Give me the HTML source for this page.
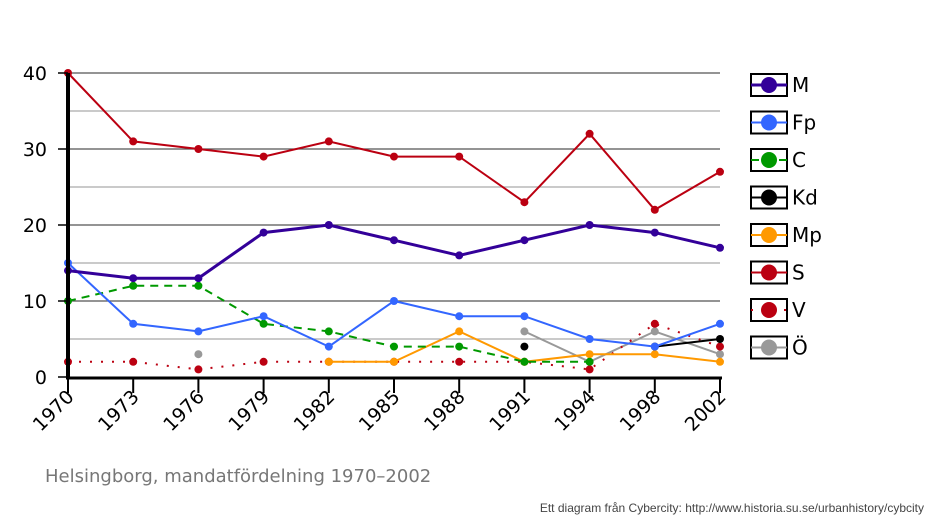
<!DOCTYPE html>
<html><head><meta charset="utf-8"><style>
html,body{margin:0;padding:0;background:#fff;width:934px;height:521px;overflow:hidden}
svg{display:block;font-family:"DejaVu Sans","Liberation Sans",sans-serif}
</style></head><body>
<svg id="s" width="934" height="521" xmlns="http://www.w3.org/2000/svg">
<text x="45" y="482" font-size="18" fill="#777">Helsingborg, mandatfördelning 1970–2002</text>
<text x="924" y="512" font-size="12" fill="#444" text-anchor="end" font-family="Liberation Sans, sans-serif">Ett diagram från Cybercity: http://www.historia.su.se/urbanhistory/cybcity</text>
</svg>
<script>
const s=document.getElementById('s'),NS='http://www.w3.org/2000/svg';
function el(t,a,txt){const e=document.createElementNS(NS,t);for(const k in a)e.setAttribute(k,a[k]);if(txt!=null)e.textContent=txt;s.appendChild(e);return e;}
const X=i=>68+i*65.2, Y=v=>377-v*7.6;
for(let v=5;v<=40;v+=5){el('line',{x1:68,x2:720,y1:Y(v),y2:Y(v),stroke:v%10?'#aaa':'#555','stroke-width':1.3});}
const yrs=[1970,1973,1976,1979,1982,1985,1988,1991,1994,1998,2002];
const ser=[
['M','#330099',3,null,[14,13,13,19,20,18,16,18,20,19,17]],
['Fp','#3366ff',2,null,[15,7,6,8,4,10,8,8,5,4,7]],
['C','#009900',2,'8,6',[10,12,12,7,6,4,4,2,2,null,null]],
['Kd','#000',2,null,[null,null,null,null,null,null,null,4,null,4,5]],
['Mp','#ff9900',2,null,[null,null,null,null,2,2,6,2,3,3,2]],
['S','#bb0011',2,null,[40,31,30,29,31,29,29,23,32,22,27]],
['V','#bb0011',2,'2,9',[2,2,1,2,2,2,2,2,1,7,4]],
['Ö','#999',2,null,[null,null,3,null,null,null,null,6,2,6,3]]];
for(const k of [7,6,4,3,2,1,5,0]){const [n,c,w,d,data]=ser[k];
 let segs=[],cur=[];data.forEach((v,i)=>{if(v==null){if(cur.length)segs.push(cur);cur=[]}else cur.push(X(i)+','+Y(v))});if(cur.length)segs.push(cur);
 segs.forEach(sg=>{if(sg.length>1){const a={points:sg.join(' '),fill:'none',stroke:c,'stroke-width':w};if(d)a['stroke-dasharray']=d;el('polyline',a);}});
 data.forEach((v,i)=>{if(v!=null)el('circle',{cx:X(i),cy:Y(v),r:4,fill:c});});
}
el('line',{x1:68,x2:68,y1:73,y2:379,stroke:'#000','stroke-width':4});
el('line',{x1:66,x2:722,y1:378,y2:378,stroke:'#000','stroke-width':3});
for(let v=0;v<=40;v+=10){el('line',{x1:58,x2:68,y1:Y(v),y2:Y(v),stroke:'#000','stroke-width':1.5});el('text',{x:47,y:Y(v)+7,'font-size':19,'text-anchor':'end'},v);}
yrs.forEach((y,i)=>{el('line',{x1:X(i),x2:X(i),y1:377,y2:393,stroke:'#000','stroke-width':2});
 el('text',{x:0,y:0,'font-size':19,'text-anchor':'end',transform:`translate(${X(i)+7},${398}) rotate(-45)`},y);});
ser.forEach(([n,c,w,d],k)=>{const cy=85+k*37.5;
 el('rect',{x:751,y:cy-11,width:36,height:22,fill:'#fff',stroke:'#000','stroke-width':2});
 const a={x1:751,x2:787,y1:cy,y2:cy,stroke:c,'stroke-width':w};if(d)a['stroke-dasharray']=d;el('line',a);
 el('circle',{cx:769,cy:cy,r:8,fill:c});
 el('text',{x:792,y:cy+7,'font-size':20},n);});
</script>
</body></html>
